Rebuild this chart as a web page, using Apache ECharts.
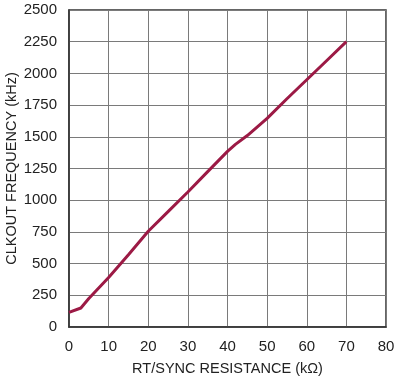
<!DOCTYPE html>
<html><head><meta charset="utf-8">
<script src="https://cdn.jsdelivr.net/npm/echarts@6/dist/echarts.min.js"></script>
<style>html,body{margin:0;padding:0;background:#fff}#c{width:396px;height:379px}</style>
</head><body><div id="c"></div>
<script>
var resistance = [0, 3, 5, 10, 15, 20, 25, 30, 35, 40, 42, 45, 50, 55, 60, 65, 70];
var frequency = [115, 150, 225, 390, 570, 755, 910, 1065, 1225, 1385, 1440, 1510, 1645, 1800, 1950, 2100, 2250];
var xTicks = [0, 10, 20, 30, 40, 50, 60, 70, 80];
var yTicks = [0, 250, 500, 750, 1000, 1250, 1500, 1750, 2000, 2250, 2500];

var font = '"Liberation Sans Narrow", "Liberation Sans", sans-serif';
var chart = echarts.init(document.getElementById('c'), null, {renderer: 'canvas'});
chart.setOption({
  animation: false,
  grid: {left: 69, top: 10, right: 10, bottom: 52, containLabel: false, outerBoundsMode: 'none',
         show: true, borderColor: '#333', borderWidth: 1.5, backgroundColor: 'transparent'},
  xAxis: {
    type: 'value', min: xTicks[0], max: xTicks[xTicks.length - 1], interval: 10,
    name: 'RT/SYNC RESISTANCE (kΩ)', nameLocation: 'middle', nameGap: 34, nameMoveOverlap: false,
    nameTextStyle: {fontFamily: font, fontSize: 14.5, color: '#222'},
    axisLine: {show: true, lineStyle: {color: '#333', width: 1.5}},
    axisTick: {show: false},
    axisLabel: {fontFamily: font, fontSize: 15, color: '#222', margin: 12, formatter: function (v) { return String(v); }},
    splitLine: {show: true, lineStyle: {color: '#7a7a7a', width: 1}}
  },
  yAxis: {
    type: 'value', min: yTicks[0], max: yTicks[yTicks.length - 1], interval: 250,
    name: 'CLKOUT FREQUENCY (kHz)', nameLocation: 'middle', nameGap: 50, nameMoveOverlap: false,
    nameTextStyle: {fontFamily: font, fontSize: 14.5, color: '#222'},
    axisLine: {show: true, lineStyle: {color: '#333', width: 1.5}},
    axisTick: {show: false},
    axisLabel: {fontFamily: font, fontSize: 15, color: '#222', margin: 12, formatter: function (v) { return String(v); }},
    splitLine: {show: true, lineStyle: {color: '#7a7a7a', width: 1}}
  },
  series: [{
    type: 'line',
    data: resistance.map(function (r, i) { return [r, frequency[i]]; }),
    showSymbol: false,
    smooth: false,
    lineStyle: {color: '#9c1a45', width: 3}
  }]
});
</script></body></html>
